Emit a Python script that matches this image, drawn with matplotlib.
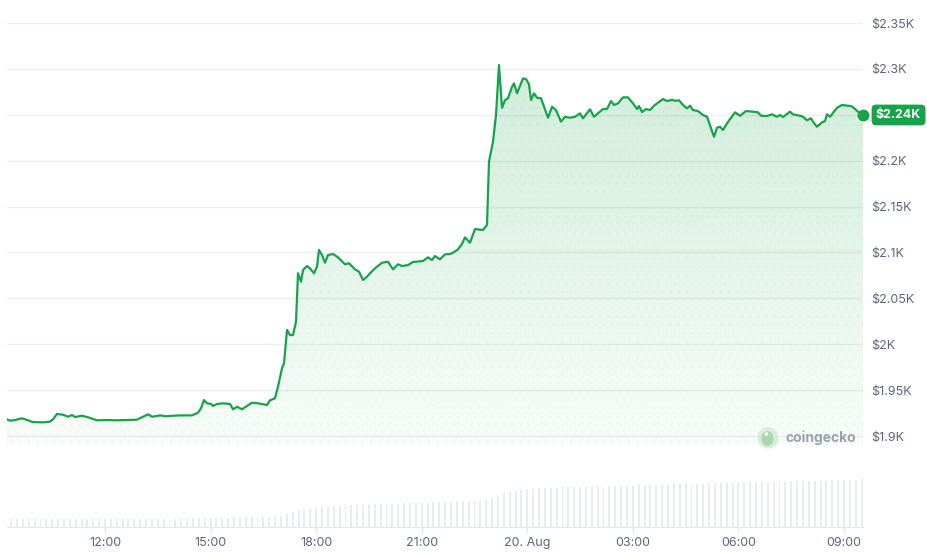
import math
import numpy as np
import matplotlib
matplotlib.use("Agg")
import matplotlib.pyplot as plt
from matplotlib.patches import Circle, Ellipse

# ---------------- data ----------------
# hours since 00:00, 19 Aug
hours = [9.215, 9.300, 9.442, 9.641, 9.812, 9.954, 10.238, 10.437, 10.522, 10.636,
         10.806, 10.949, 11.062, 11.147, 11.346, 11.517, 11.773, 12.057, 12.284, 12.625,
         12.909, 13.080, 13.222, 13.336, 13.478, 13.563, 13.705, 14.131, 14.472, 14.643,
         14.728, 14.813, 14.899, 15.012, 15.069, 15.183, 15.353, 15.552, 15.637, 15.751,
         15.893, 16.035, 16.177, 16.348, 16.604, 16.689, 16.831, 16.916, 17.030, 17.087,
         17.172, 17.257, 17.342, 17.428, 17.484, 17.570, 17.627, 17.740, 17.825, 17.939,
         18.024, 18.081, 18.167, 18.252, 18.337, 18.479, 18.621, 18.820, 18.934, 19.104,
         19.218, 19.332, 19.445, 19.531, 19.673, 19.872, 20.042, 20.184, 20.326, 20.440,
         20.610, 20.752, 21.037, 21.179, 21.292, 21.378, 21.520, 21.662, 21.804, 21.889,
         22.031, 22.145, 22.230, 22.372, 22.514, 22.742, 22.855, 22.912, 23.026, 23.111,
         23.196, 23.282, 23.367, 23.452, 23.566, 23.623, 23.708, 23.878, 23.964, 24.049,
         24.106, 24.191, 24.276, 24.390, 24.589, 24.703, 24.816, 24.958, 25.072, 25.214,
         25.356, 25.498, 25.583, 25.782, 25.896, 26.010, 26.152, 26.265, 26.379, 26.464,
         26.578, 26.720, 26.862, 27.004, 27.118, 27.175, 27.260, 27.374, 27.487, 27.601,
         27.857, 27.970, 28.112, 28.198, 28.311, 28.425, 28.539, 28.624, 28.709, 28.851,
         28.993, 29.107, 29.221, 29.306, 29.391, 29.477, 29.562, 29.676, 29.903, 30.045,
         30.215, 30.414, 30.556, 30.642, 30.812, 30.954, 31.096, 31.182, 31.267, 31.466,
         31.551, 31.750, 31.835, 31.949, 32.062, 32.119, 32.233, 32.375, 32.461, 32.517,
         32.603, 32.801, 32.943, 33.114, 33.228, 33.398, 33.540]

prices = [1918.2, 1916.7, 1917.4, 1919.3, 1917.1, 1915.2, 1914.9, 1915.6, 1918.2, 1924.0,
          1923.2, 1921.0, 1922.9, 1920.7, 1922.1, 1920.4, 1917.1, 1917.4, 1917.1, 1917.4,
          1917.8, 1921.0, 1923.6, 1921.0, 1921.8, 1922.5, 1921.5, 1922.5, 1922.5, 1925.4,
          1930.2, 1939.2, 1935.6, 1934.9, 1932.7, 1934.9, 1935.6, 1934.9, 1929.1, 1931.9,
          1929.1, 1932.7, 1936.3, 1935.6, 1933.8, 1938.9, 1941.1, 1953.7, 1973.8, 1979.2,
          2015.5, 2010.0, 2010.0, 2024.5, 2077.3, 2068.1, 2080.9, 2085.2, 2082.7, 2077.3,
          2084.5, 2102.7, 2097.2, 2088.8, 2097.2, 2098.3, 2094.7, 2087.1, 2088.2, 2081.6,
          2079.0, 2070.0, 2073.6, 2077.3, 2082.7, 2088.8, 2089.9, 2081.6, 2087.1, 2085.2,
          2086.3, 2089.6, 2090.7, 2094.7, 2091.8, 2096.1, 2092.5, 2098.0, 2098.3, 2099.7,
          2103.4, 2109.2, 2116.5, 2110.6, 2125.5, 2124.5, 2129.9, 2198.9, 2220.7, 2249.8,
          2304.2, 2257.7, 2266.1, 2268.0, 2280.6, 2284.3, 2273.4, 2289.7, 2289.0, 2283.2,
          2266.1, 2273.4, 2268.6, 2268.0, 2246.8, 2258.8, 2255.2, 2242.5, 2247.9, 2246.8,
          2247.9, 2251.6, 2246.2, 2256.0, 2247.9, 2251.6, 2256.3, 2256.3, 2265.0, 2260.7,
          2262.5, 2269.0, 2269.0, 2262.5, 2256.3, 2259.6, 2253.0, 2256.3, 2255.2, 2259.9,
          2267.2, 2265.0, 2266.4, 2265.3, 2265.8, 2260.7, 2257.1, 2259.9, 2255.2, 2254.1,
          2249.8, 2247.9, 2235.3, 2226.1, 2235.9, 2237.0, 2233.4, 2240.7, 2252.7, 2249.0,
          2254.1, 2253.4, 2252.7, 2249.0, 2248.7, 2250.5, 2247.9, 2249.8, 2247.6, 2253.4,
          2250.5, 2249.0, 2247.9, 2244.0, 2246.2, 2242.5, 2237.0, 2241.8, 2243.2, 2250.5,
          2247.9, 2257.7, 2260.7, 2259.9, 2259.2, 2253.4, 2249.8]

# volume bars: one every 10 minutes starting 09:20 (values in $M)
vol_start_hour = 9 + 20 / 60
vol_step_hours = 10 / 60
volumes = [80, 80, 81, 80,
           80, 81, 80, 81, 81, 80,
           81, 81, 82, 81, 82, 82,
           82, 82, 83, 82, 83, 83,
           83, 83, 84, 83, 84, 84,
           84, 85, 85, 86, 86, 87,
           90, 91, 93, 95, 97, 100,
           101, 102, 103, 104, 105, 106,
           112, 130, 150, 167, 178, 183,
           190, 198, 205, 210, 213, 214,
           216, 218, 222, 224, 226, 228,
           230, 232, 234, 236, 238, 240,
           243, 245, 247, 250, 252, 254,
           256, 258, 260, 262, 265, 275,
           290, 315, 340, 350, 360, 368,
           378, 383, 386, 389, 391, 393,
           396, 399, 401, 403, 405, 406,
           408, 409, 410, 411, 413, 413,
           414, 416, 418, 419, 421, 423,
           424, 426, 428, 430, 431, 433,
           434, 436, 438, 440, 441, 443,
           445, 446, 447, 448, 450, 451,
           453, 454, 455, 456, 457, 458,
           460, 461, 462, 464, 466, 468,
           471, 473, 475, 478]

tick_hours = [12, 15, 18, 21, 24, 27, 30, 33]
tick_labels = ["12:00", "15:00", "18:00", "21:00", "20. Aug", "03:00", "06:00", "09:00"]
price_ticks = [1900, 1950, 2000, 2050, 2100, 2150, 2200, 2250, 2300, 2350]
hidden_price_tick = 2250

# ---------------- style ----------------
plt.rcParams['font.family'] = ['Inter', 'DejaVu Sans']
plt.rcParams['hatch.linewidth'] = 0.0
GREEN = '#16a34a'
GREEN_RGB = (22 / 255, 163 / 255, 74 / 255)
GRID = '#eceef2'
LABEL = '#5b6677'

W, H = 928, 556
fig = plt.figure(figsize=(W / 100, H / 100), dpi=100)
fig.patch.set_facecolor('white')


def px_rect(l, t, r, b):
    return [l / W, 1 - b / H, (r - l) / W, (b - t) / H]


ax = fig.add_axes(px_rect(7, 0, 863, 445))
axv = fig.add_axes(px_rect(7, 445, 863, 527))

YLO, YHI = 1890.2, 2375.1
x0, x1 = hours[0], hours[-1]

# ---------------- price pane ----------------
ax.set_axisbelow(True)
poly = ax.fill_between(hours, prices, YLO, facecolor='none', edgecolor='none')
grad = np.zeros((256, 1, 4))
grad[..., 0], grad[..., 1], grad[..., 2] = GREEN_RGB
grad[:, 0, 3] = np.linspace(0.03, 0.20, 256)
im = ax.imshow(grad, extent=[x0, x1, YLO, max(prices)], origin='lower',
               aspect='auto', zorder=1, interpolation='bilinear')
im.set_clip_path(poly.get_paths()[0], transform=ax.transData)

# faint dotted texture inside the area
ax.fill_between(hours, prices, YLO, facecolor='none',
                edgecolor=(*GREEN_RGB, 0.10), hatch='..', lw=0, zorder=1.5)

ax.plot(hours, prices, color=GREEN, lw=1.6, zorder=3, solid_joinstyle='round',
        solid_capstyle='round')
ax.plot([hours[-1]], [prices[-1]], 'o', ms=7.5, color=GREEN, clip_on=False, zorder=4)

ax.set_xlim(x0, x1)
ax.set_ylim(YLO, YHI)
ax.set_yticks(price_ticks)
ax.set_yticklabels(['' if v == hidden_price_tick else f"${v / 1000:g}K" for v in price_ticks])
ax.yaxis.tick_right()
ax.tick_params(axis='y', length=0, pad=6, labelsize=9, labelcolor=LABEL)
ax.set_xticks([])
ax.yaxis.grid(True, color=GRID, lw=1)
for s in ax.spines.values():
    s.set_visible(False)

label = f"${math.floor(prices[-1] / 10) / 100:.2f}K"
ax.annotate(label, xy=(1, prices[-1]), xycoords=('axes fraction', 'data'),
            xytext=(13, 0), textcoords='offset pixels', ha='left', va='center',
            color='white', fontsize=9, fontweight='bold',
            bbox=dict(boxstyle='round,pad=0.35,rounding_size=0.35', fc=GREEN, ec='none'),
            annotation_clip=False, zorder=6)

# ---------------- volume pane ----------------
vol_hours = vol_start_hour + vol_step_hours * np.arange(len(volumes))
axv.bar(vol_hours, volumes, width=0.055, color='#e8ebef', lw=0)
axv.set_xlim(x0, x1)
axv.set_ylim(0, 820)
axv.set_yticks([])
axv.set_xticks(tick_hours)
axv.set_xticklabels(tick_labels)
axv.tick_params(axis='x', length=4, width=1, color='#e3e6ea', labelsize=9,
                labelcolor=LABEL, pad=3)
for k in ('top', 'left', 'right'):
    axv.spines[k].set_visible(False)
axv.spines['bottom'].set_color('#e3e6ea')
axv.patch.set_alpha(0)

# ---------------- watermark ----------------
cx, cy = 768 / 100, (H - 438) / 100
fig.add_artist(Circle((cx, cy), 0.107, transform=fig.dpi_scale_trans,
                      fc='#d7eed9', ec='none', zorder=10))
fig.add_artist(Ellipse((cx - 0.005, cy - 0.005), 0.12, 0.15, transform=fig.dpi_scale_trans,
                       fc='#a9d8ae', ec='none', zorder=11))
fig.add_artist(Circle((cx - 0.015, cy + 0.04), 0.018, transform=fig.dpi_scale_trans,
                      fc='white', ec='none', zorder=12))
fig.text(786 / W, 1 - 438 / H, 'coingecko', ha='left', va='center', fontsize=10,
         fontweight='bold', color='#9aa2ae', zorder=12)

fig.savefig('out.png', dpi=100)
